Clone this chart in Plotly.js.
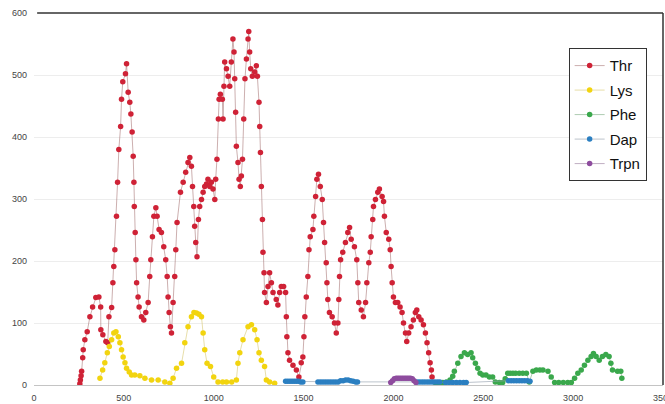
<!DOCTYPE html>
<html>
<head>
<meta charset="utf-8">
<script src="https://cdn.plot.ly/plotly-3.0.1.min.js"></script>
<style>
  html, body { margin: 0; padding: 0; background: #ffffff; }
  #chart { width: 665px; height: 404px; }
</style>
</head>
<body>
<div id="chart"></div>
<script>
// Thr profile
const thrX = [255,258,262,265,271,274,283,296,311,326,344,361,371,372,383,400,410,417,432,439,444,450,459,465,472,482,487,494,509,515,524,533,539,546,552,556,558,563,567,571,579,585,598,611,622,635,644,650,659,667,678,685,696,709,722,733,741,746,752,759,765,774,783,789,796,815,830,844,857,867,876,882,889,894,900,907,915,922,932,941,950,960,968,978,987,996,1006,1011,1018,1026,1030,1037,1048,1052,1057,1061,1071,1080,1089,1098,1107,1113,1117,1122,1126,1135,1141,1148,1154,1160,1167,1174,1182,1191,1195,1200,1206,1215,1228,1237,1243,1252,1256,1260,1265,1271,1274,1280,1283,1293,1302,1311,1321,1330,1348,1357,1367,1376,1389,1400,1404,1407,1413,1422,1441,1460,1474,1487,1496,1502,1507,1515,1524,1530,1537,1552,1557,1567,1574,1583,1593,1604,1611,1617,1626,1630,1635,1644,1659,1672,1682,1691,1696,1700,1706,1718,1733,1746,1756,1765,1783,1796,1802,1807,1821,1833,1845,1852,1863,1871,1876,1885,1889,1900,1913,1922,1937,1945,1950,1960,1974,1982,1987,1993,2000,2011,2024,2037,2048,2056,2067,2074,2085,2098,2111,2122,2130,2141,2154,2167,2178,2187,2196,2204,2211,2215];
const thrY = [2,8,15,22,44,57,73,86,110,126,141,142,126,89,81,70,68,110,125,165,191,218,272,327,380,417,461,489,502,518,472,456,437,408,369,327,288,246,202,165,142,126,110,105,117,133,175,202,239,272,286,272,251,246,223,202,175,142,117,94,84,133,175,218,262,311,327,343,359,367,353,320,288,256,230,207,267,288,299,311,320,324,332,320,327,316,299,332,364,429,461,469,461,429,482,521,510,498,482,521,558,537,494,440,385,359,332,320,337,364,429,494,526,558,570,537,510,498,505,515,498,456,417,375,320,267,214,181,149,133,159,181,165,149,138,129,149,159,159,149,110,78,52,40,32,24,13,36,45,78,110,142,175,218,239,251,272,304,332,340,320,299,262,230,197,165,138,117,110,100,84,100,138,175,202,214,230,246,254,235,223,202,165,133,121,110,133,165,197,214,239,267,288,299,311,316,304,296,272,246,235,218,191,165,142,133,133,126,117,100,84,70,84,94,105,117,121,110,105,97,84,68,52,36,24,13];

// Lys profile
const lysX = [367,382,394,408,419,432,444,456,469,478,487,496,506,515,530,543,561,589,617,654,691,728,756,774,793,821,839,857,876,890,904,918,932,941,950,963,982,1000,1024,1050,1071,1100,1126,1135,1145,1163,1191,1210,1228,1241,1252,1265,1283,1293,1311,1339];
const lysY = [11,24,36,52,62,73,84,86,78,68,57,45,36,27,21,16,16,15,11,8,8,5,3,11,27,35,68,94,110,117,116,114,110,84,57,35,30,13,5,5,5,5,8,35,52,73,94,97,89,73,52,40,30,8,5,3];

// Phe profile
const pheX = [2235,2255,2275,2295,2315,2330,2339,2358,2376,2395,2413,2432,2441,2456,2469,2482,2497,2515,2534,2552,2567,2589,2608,2622,2636,2650,2665,2680,2700,2720,2740,2756,2776,2795,2815,2832,2860,2878,2897,2920,2945,2970,2990,3008,3026,3045,3063,3082,3100,3113,3128,3145,3163,3182,3200,3210,3219,3247,3265,3271];
const pheY = [3,3,4,5,8,14,22,35,46,52,49,52,44,35,27,19,16,16,13,13,5,4,4,10,19,19,19,19,19,19,19,5,22,24,24,24,22,13,4,4,4,4,4,11,19,24,32,40,46,51,46,40,46,49,46,35,24,22,22,11];

// Dap profile
const dapX = [1400,1412,1424,1436,1448,1460,1472,1484,1496,1580,1594,1608,1622,1636,1650,1664,1678,1692,1706,1720,1734,1748,1762,1776,1790,1800,2132,2146,2160,2174,2188,2202,2216,2230,2244,2258,2290,2310,2330,2350,2370,2390,2405,2640,2655,2670,2685,2700,2715,2730,2745,2760];
const dapY = [6,6,6,6,6,6,6,5,5,5,5,5,5,5,5,5,5,5,7,7,8,8,7,6,5,5,5,5,5,5,5,5,5,5,5,5,4,4,4,4,4,4,4,7,7,7,7,7,7,7,7,6];

// Trpn profile
const trpnX = [1985,1995,2005,2015,2025,2035,2045,2055,2065,2075,2085,2095,2105,2115,2125];
const trpnY = [4,7,10,11,11,11,11,11,11,11,11,11,10,7,4];

const xTicks = [0,500,1000,1500,2000,2500,3000,3500];
const yTicks = [0,100,200,300,400,500,600];

function series(name, x, y, color, lineColor, group) {
  return {
    type: 'scatter', mode: 'lines+markers', name: name, x: x, y: y,
    legendgroup: group,
    line: { color: lineColor, width: 0.8 },
    marker: { color: color, size: 5.5, symbol: 'circle', line: { width: 0 } },
    hoverinfo: 'x+y+name'
  };
}

const traces = [
  series('Thr',  thrX,  thrY,  '#cf2236', 'rgba(170,120,120,0.75)', 'g1'),
  series('Lys',  lysX,  lysY,  '#f2d40f', 'rgba(215,200,110,0.75)', 'g2'),
  series('Phe',  pheX,  pheY,  '#3aa84c', 'rgba(120,170,125,0.75)', 'g3'),
  series('Dap',  dapX,  dapY,  '#2b7fc1', 'rgba(150,160,175,0.8)', 'g4'),
  series('Trpn', trpnX, trpnY, '#8e4c9e', 'rgba(150,120,155,0.75)', 'g5')
];

const layout = {
  width: 665, height: 404,
  margin: { l: 34, r: 2, t: 13, b: 19, pad: 0 },
  paper_bgcolor: '#ffffff', plot_bgcolor: '#ffffff',
  font: { family: 'Liberation Sans, Arial, sans-serif', color: '#444' },
  showlegend: true,
  legend: {
    x: 0.85, y: 0.905, xanchor: 'left', yanchor: 'top',
    bgcolor: '#ffffff', bordercolor: '#333333', borderwidth: 1,
    font: { size: 15, color: '#111', family: 'Liberation Sans, Arial, sans-serif' },
    itemwidth: 30, tracegroupgap: 2, traceorder: 'grouped'
  },
  xaxis: {
    range: [0, 3500], tickvals: xTicks, ticktext: xTicks.map(String),
    showgrid: false, zeroline: false,
    showline: true, linecolor: '#c4c4c4', linewidth: 1,
    ticks: '', ticklabelstandoff: 4, automargin: false,
    ticklabeloverflow: 'allow',
    tickfont: { size: 9, color: '#444' }
  },
  yaxis: {
    range: [0, 600], tickvals: yTicks, ticktext: yTicks.map(String),
    showgrid: true, gridcolor: '#ededed', gridwidth: 1, zeroline: false,
    showline: false, ticks: '', ticklabelstandoff: 6, automargin: false,
    tickfont: { size: 9, color: '#444' }
  },
  shapes: [
    { type: 'line', xref: 'paper', yref: 'paper', x0: 0.005, x1: 1, y0: 1, y1: 1,
      line: { color: '#333333', width: 1.5 } },
    { type: 'line', xref: 'paper', yref: 'paper', x0: 1, x1: 1, y0: 0, y1: 1,
      line: { color: '#333333', width: 1.5 } }
  ]
};

Plotly.newPlot('chart', traces, layout, { displayModeBar: false, staticPlot: true });
</script>
</body>
</html>
